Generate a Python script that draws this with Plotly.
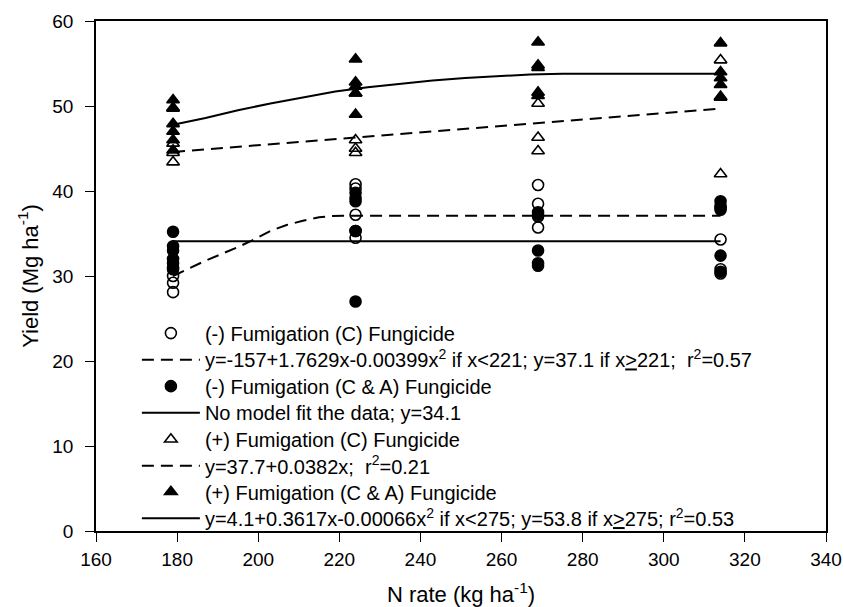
import plotly.graph_objects as go

# N rates (kg ha-1)
n_rates = [179, 224, 269, 314]

# Observed yields (Mg ha-1) per N rate
minus_C = {
    179: [28.1, 29.2, 30.0, 31.0],
    224: [40.8, 40.3, 37.2, 35.3, 34.5],
    269: [40.7, 38.5, 37.0, 35.7],
    314: [38.0, 34.3, 30.8, 30.3],
}
minus_CA = {
    179: [35.2, 33.5, 33.0, 32.0, 31.5, 30.8],
    224: [39.8, 39.2, 38.8, 35.3, 27.0],
    269: [37.5, 37.2, 33.0, 31.5, 31.2],
    314: [38.8, 38.2, 37.8, 32.4, 30.5],
}
plus_C = {
    179: [49.7, 45.6, 44.5, 43.4],
    224: [51.5, 46.0, 45.0, 44.5],
    269: [50.3, 46.3, 44.7],
    314: [55.4, 51.1, 42.0],
}
plus_CA = {
    179: [50.7, 49.8, 47.9, 47.0, 46.0, 44.8],
    224: [55.5, 52.8, 52.3, 51.5, 49.0],
    269: [57.5, 54.8, 54.5, 51.6, 51.2],
    314: [57.4, 54.0, 53.3, 52.5, 51.0],
}

# Fitted model curves
fit1_x = [179, 183, 187, 191, 195, 199, 203, 207, 211, 215, 218, 221, 314]
fit1_y = [30.0, 30.9, 31.8, 32.6, 33.4, 34.3, 35.3, 36.0, 36.5, 36.9, 37.05, 37.1, 37.1]
fit2_x = [179, 314]
fit2_y = [34.1, 34.1]
fit3_x = [179, 314]
fit3_y = [44.6, 49.7]
fit4_x = [179, 187, 195, 203, 211, 219, 227, 235, 243, 251, 259, 267, 275, 314]
fit4_y = [47.8, 48.6, 49.5, 50.3, 51.0, 51.7, 52.2, 52.6, 53.0, 53.3, 53.5, 53.7, 53.8, 53.8]

names = [
    "(-) Fumigation (C) Fungicide",
    "y=-157+1.7629x-0.00399x<sup>2</sup> if x<221; y=37.1 if x<u>></u>221;  r<sup>2</sup>=0.57",
    "(-) Fumigation (C & A) Fungicide",
    "No model fit the data; y=34.1",
    "(+) Fumigation (C) Fungicide",
    "y=37.7+0.0382x;  r<sup>2</sup>=0.21",
    "(+) Fumigation (C & A) Fungicide",
    "y=4.1+0.3617x-0.00066x<sup>2</sup> if x<275; y=53.8 if x<u>></u>275; r<sup>2</sup>=0.53",
]


def flatten(d):
    xs, ys = [], []
    for k in n_rates:
        for v in d.get(k, []):
            xs.append(k)
            ys.append(v)
    return xs, ys


fig = go.Figure()
dash = "12px,7px"
legend_ids = ["legend"] + ["legend%d" % i for i in range(2, 9)]


def add_pts(d, symbol, i):
    xs, ys = flatten(d)
    fig.add_trace(go.Scatter(
        x=xs, y=ys, mode="markers", name=names[i], legend=legend_ids[i],
        marker=dict(symbol=symbol, size=11, color="black",
                    line=dict(color="black", width=1.6)),
    ))


def add_line(x, y, dashed, i):
    fig.add_trace(go.Scatter(
        x=x, y=y, mode="lines", name=names[i], legend=legend_ids[i],
        line=dict(color="black", width=2, dash=dash if dashed else "solid"),
    ))


add_pts(minus_C, "circle-open", 0)
add_line(fit1_x, fit1_y, True, 1)
add_pts(minus_CA, "circle", 2)
add_line(fit2_x, fit2_y, False, 3)
add_pts(plus_C, "triangle-up-open", 4)
add_line(fit3_x, fit3_y, True, 5)
add_pts(plus_CA, "triangle-up", 6)
add_line(fit4_x, fit4_y, False, 7)

axis_font = dict(family="Liberation Sans, Arial, sans-serif", size=19, color="black")

# one legend box per row so that row spacing can follow the reference
legend_rows_y = [0.388, 0.336, 0.284, 0.232, 0.180, 0.128, 0.077, 0.025]
legends = {}
for i, lid in enumerate(legend_ids):
    legends[lid] = dict(
        x=0.056, y=legend_rows_y[i], xanchor="left", yanchor="middle",
        bgcolor="rgba(0,0,0,0)", borderwidth=0,
        font=dict(size=20, color="black", family="Liberation Sans, Arial, sans-serif"),
        itemwidth=58, tracegroupgap=0,
    )

fig.update_layout(
    width=844, height=607,
    margin=dict(l=96, r=18, t=21, b=76, autoexpand=False),
    plot_bgcolor="white", paper_bgcolor="white",
    font=dict(family="Liberation Sans, Arial, sans-serif", color="black"),
    showlegend=True,
    xaxis=dict(
        range=[160, 340], tickmode="linear", tick0=160, dtick=20,
        ticks="outside", ticklen=9, tickwidth=1.2, tickcolor="black",
        showline=True, linecolor="black", linewidth=1.5, mirror=True,
        showgrid=False, zeroline=False, tickfont=axis_font, automargin=False,
        ticklabelstandoff=1, ticklabeloverflow="allow",
        title=dict(text="N rate (kg ha<sup>-1</sup>)", font=dict(size=22), standoff=21),
    ),
    yaxis=dict(
        range=[0, 60], tickmode="linear", tick0=0, dtick=10,
        ticks="outside", ticklen=9, tickwidth=1.2, tickcolor="black",
        showline=True, linecolor="black", linewidth=1.5, mirror=True,
        showgrid=False, zeroline=False, tickfont=axis_font, automargin=False,
        ticklabelstandoff=8,
        title=dict(text="Yield (Mg ha<sup>-1</sup>)", font=dict(size=22), standoff=8),
    ),
    **legends,
)

# remove the page's default body margin so the 844x607 figure fills the window exactly
fig.write_html(
    "out.html",
    config={"displayModeBar": False},
    post_script="document.body.style.margin='0';document.body.style.overflow='hidden';",
)
